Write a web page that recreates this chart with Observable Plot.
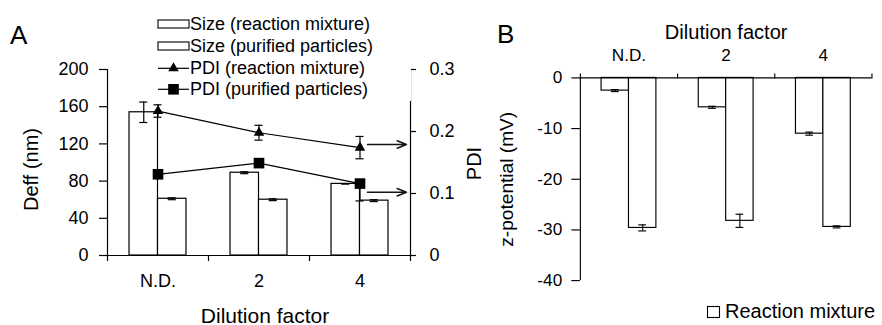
<!DOCTYPE html>
<html><head><meta charset="utf-8">
<script src="https://cdn.jsdelivr.net/npm/d3@7"></script>
<script src="https://cdn.jsdelivr.net/npm/@observablehq/plot@0.6"></script>
<style>
html,body{margin:0;padding:0;background:#fff;}
#wrap{position:relative;width:882px;height:325px;overflow:hidden;font-family:'Liberation Sans',Arial,sans-serif;color:#000;background:#fff;}
#panelA{position:absolute;left:0;top:0;}
#panelB{position:absolute;left:490px;top:0;}
#overlay{position:absolute;left:0;top:0;pointer-events:none;}
</style></head><body>
<div id="wrap"><div id="panelA"></div><div id="panelB"></div><svg id="overlay" width="882" height="325"></svg></div>
<script>
// ---- data ----
const categories = ["N.D.", "2", "4"];
const sizeReaction = [154, 89, 77];
const sizeReactionErr = [11, 1, 0];
const sizePurified = [61, 60, 59];
const sizePurifiedErr = [1, 1, 1];
const pdiReaction = [0.233, 0.198, 0.174];
const pdiReactionErr = [0.01, 0.012, 0.018];
const pdiPurified = [0.131, 0.149, 0.116];
const pdiPurifiedErrLow = [0.005, 0.005, 0.028];
const pdiPurifiedErrHigh = [0.005, 0.005, 0.0];
const deffTicks = [0, 40, 80, 120, 160, 200];
const pdiTicks = [0, 0.1, 0.2, 0.3];
const arrowPdi = [0.179, 0.102];
const zetaReaction = [-2.5, -5.8, -11.0];
const zetaReactionErr = [0.2, 0.2, 0.3];
const zetaPurified = [-29.6, -28.2, -29.4];
const zetaPurifiedErr = [0.6, 1.3, 0.2];
const zetaTicks = [0, -10, -20, -30, -40];
const legendA = ["Size (reaction mixture)", "Size (purified particles)", "PDI (reaction mixture)", "PDI (purified particles)"];
const legendB = ["Reaction mixture"];
const axisTitleX = "Dilution factor";
const axisTitleDeff = "Deff (nm)";
const axisTitlePdi = "PDI";
const axisTitleZeta = "z-potential (mV)";

// ---- helpers ----
const FONT = "'Liberation Sans', Arial, sans-serif";
const idx = categories.map((_, i) => i);
const BW = 0.282;   // bar width (category units)
const CAP = 0.04;   // half error-cap width
const K = 200 / 0.3; // PDI -> Deff axis factor
const LW = 1.2;
const catFmt = d => categories[Math.round(d - 0.5)];
const centers = idx.map(i => i + 0.5);

function errs(cx, val, lo, hi) {
  hi = hi || lo;
  return [
    Plot.ruleX(idx, {x: cx, y1: i => val(i) - lo(i), y2: i => val(i) + hi(i), stroke: "black", strokeWidth: LW}),
    Plot.ruleY(idx, {x1: i => cx(i) - CAP, x2: i => cx(i) + CAP, y: i => val(i) - lo(i), stroke: "black", strokeWidth: LW}),
    Plot.ruleY(idx, {x1: i => cx(i) - CAP, x2: i => cx(i) + CAP, y: i => val(i) + hi(i), stroke: "black", strokeWidth: LW})
  ];
}
const style = {fontFamily: FONT, fontSize: "18px", color: "black", background: "transparent", overflow: "visible"};

// ---- panel A ----
const plotA = Plot.plot({
  width: 490, height: 325,
  marginLeft: 107, marginRight: 80, marginTop: 69, marginBottom: 70,
  x: {domain: [0, 3]},
  y: {domain: [0, 200]},
  style,
  marks: [
    Plot.rect(idx, {x1: i => i + 0.5 - BW, x2: i => i + 0.5, y1: 0, y2: i => sizeReaction[i], fill: "white", stroke: "black", strokeWidth: LW}),
    Plot.rect(idx, {x1: i => i + 0.5, x2: i => i + 0.5 + BW, y1: 0, y2: i => sizePurified[i], fill: "white", stroke: "black", strokeWidth: LW}),
    ...errs(i => i + 0.5 - BW / 2, i => sizeReaction[i], i => sizeReactionErr[i]),
    ...errs(i => i + 0.5 + BW / 2, i => sizePurified[i], i => sizePurifiedErr[i]),
    Plot.line(idx, {x: i => centers[i], y: i => pdiReaction[i] * K, stroke: "black", strokeWidth: LW}),
    Plot.line(idx, {x: i => centers[i], y: i => pdiPurified[i] * K, stroke: "black", strokeWidth: LW}),
    ...errs(i => centers[i], i => pdiReaction[i] * K, i => pdiReactionErr[i] * K),
    ...errs(i => centers[i], i => pdiPurified[i] * K, i => pdiPurifiedErrLow[i] * K, i => pdiPurifiedErrHigh[i] * K),
    Plot.dot(idx, {x: i => centers[i], y: i => pdiReaction[i] * K, symbol: "triangle", r: 3.9, fill: "black"}),
    Plot.dot(idx, {x: i => centers[i], y: i => pdiPurified[i] * K, symbol: "square", r: 6, fill: "black"}),
    Plot.arrow(arrowPdi, {x1: 2.574, x2: 2.96, y1: d => d * K, y2: d => d * K, stroke: "#151515", strokeWidth: 1.5, headLength: 10, headAngle: 44}),
    Plot.ruleX([0, 3], {stroke: "black", strokeWidth: LW}),
    Plot.ruleY([0], {stroke: "black", strokeWidth: LW}),
    Plot.axisY(deffTicks, {anchor: "left", tickSize: 8, tickPadding: 11, strokeWidth: LW, fontSize: 18, tickFormat: d => String(d), label: null}),
    Plot.axisY(pdiTicks.map(v => v * K), {anchor: "right", tickSize: 5, tickPadding: 14, strokeWidth: LW, fontSize: 18, tickFormat: d => { const v = d / K; return v === 0 ? "0" : v.toFixed(1); }, label: null}),
    Plot.axisX([0, 1, 2, 3], {anchor: "bottom", tickSize: 6, strokeWidth: LW, tickFormat: () => "", label: null}),
    Plot.axisX(centers, {anchor: "bottom", tickSize: 0, tickPadding: 19, fontSize: 18, tickFormat: catFmt, label: null}),
    Plot.text([axisTitleX], {frameAnchor: "bottom", textAnchor: "middle", lineAnchor: "bottom", dx: 6, dy: 67, fontSize: 21}),
    Plot.text([axisTitleDeff], {frameAnchor: "left", textAnchor: "middle", rotate: -90, lineAnchor: "top", dx: -84, dy: 7, fontSize: 20}),
    Plot.text([axisTitlePdi], {frameAnchor: "right", textAnchor: "middle", rotate: -90, lineAnchor: "bottom", dx: 70, dy: 1, fontSize: 20})
  ]
});
document.getElementById("panelA").appendChild(plotA);

// ---- panel B ----
const plotB = Plot.plot({
  width: 410, height: 325,
  marginLeft: 94, marginRight: 11, marginTop: 81, marginBottom: 32,
  x: {domain: [0, 3]},
  y: {domain: [-40, 0]},
  style,
  marks: [
    Plot.rect(idx, {x1: i => i + 0.5 - BW, x2: i => i + 0.5, y1: 0, y2: i => zetaReaction[i], fill: "white", stroke: "black", strokeWidth: LW}),
    Plot.rect(idx, {x1: i => i + 0.5, x2: i => i + 0.5 + BW, y1: 0, y2: i => zetaPurified[i], fill: "white", stroke: "black", strokeWidth: LW}),
    ...errs(i => i + 0.5 - BW / 2, i => zetaReaction[i], i => zetaReactionErr[i]),
    ...errs(i => i + 0.5 + BW / 2, i => zetaPurified[i], i => zetaPurifiedErr[i]),
    Plot.ruleX([0], {stroke: "black", strokeWidth: LW}),
    Plot.ruleY([0], {stroke: "black", strokeWidth: LW}),
    Plot.axisY(zetaTicks, {anchor: "left", tickSize: 9, tickPadding: 10, strokeWidth: LW, fontSize: 18, tickFormat: d => String(d), label: null}),
    Plot.axisX([0, 1, 2, 3], {anchor: "top", tickSize: 5, strokeWidth: LW, tickFormat: () => "", label: null}),
    Plot.axisX(centers, {anchor: "top", tickSize: 0, tickPadding: 18, fontSize: 18, tickFormat: catFmt, label: null}),
    Plot.text([axisTitleX], {frameAnchor: "top", textAnchor: "middle", lineAnchor: "top", dy: -56, fontSize: 21}),
    Plot.text([axisTitleZeta], {frameAnchor: "left", textAnchor: "middle", rotate: -90, lineAnchor: "top", dx: -85, fontSize: 20})
  ]
});
document.getElementById("panelB").appendChild(plotB);

// ---- overlay: panel letters + legends ----
const ov = d3.select("#overlay").style("font-family", FONT);
ov.append("text").attr("x", 10).attr("y", 44).attr("font-size", 26).text("A");
ov.append("text").attr("x", 497).attr("y", 43).attr("font-size", 26).text("B");

ov.append("rect").attr("x", 155).attr("y", 12).attr("width", 256).attr("height", 89).attr("fill", "white");
const rowsY = [24, 46, 68.3, 89.3];
legendA.forEach((label, r) => {
  const cy = rowsY[r];
  if (r < 2) {
    ov.append("rect").attr("x", 158).attr("y", cy - 4).attr("width", 31).attr("height", 8)
      .attr("fill", "white").attr("stroke", "black").attr("stroke-width", 1.1);
  } else {
    ov.append("line").attr("x1", 158).attr("x2", 189).attr("y1", cy).attr("y2", cy).attr("stroke", "black").attr("stroke-width", LW);
    const sym = r === 2 ? d3.symbolTriangle : d3.symbolSquare;
    const rr = r === 2 ? 3.9 : 6;
    ov.append("path").attr("d", d3.symbol(sym, Math.PI * rr * rr)()).attr("transform", `translate(173.5,${cy})`).attr("fill", "black");
  }
  ov.append("text").attr("x", 190).attr("y", cy + 5.8).attr("font-size", 18).text(label);
});

ov.append("rect").attr("x", 707.5).attr("y", 306.5).attr("width", 12).attr("height", 11).attr("fill", "white").attr("stroke", "black").attr("stroke-width", 1.1);
ov.append("text").attr("x", 725).attr("y", 318).attr("font-size", 20).text(legendB[0]);
</script>
</body></html>
